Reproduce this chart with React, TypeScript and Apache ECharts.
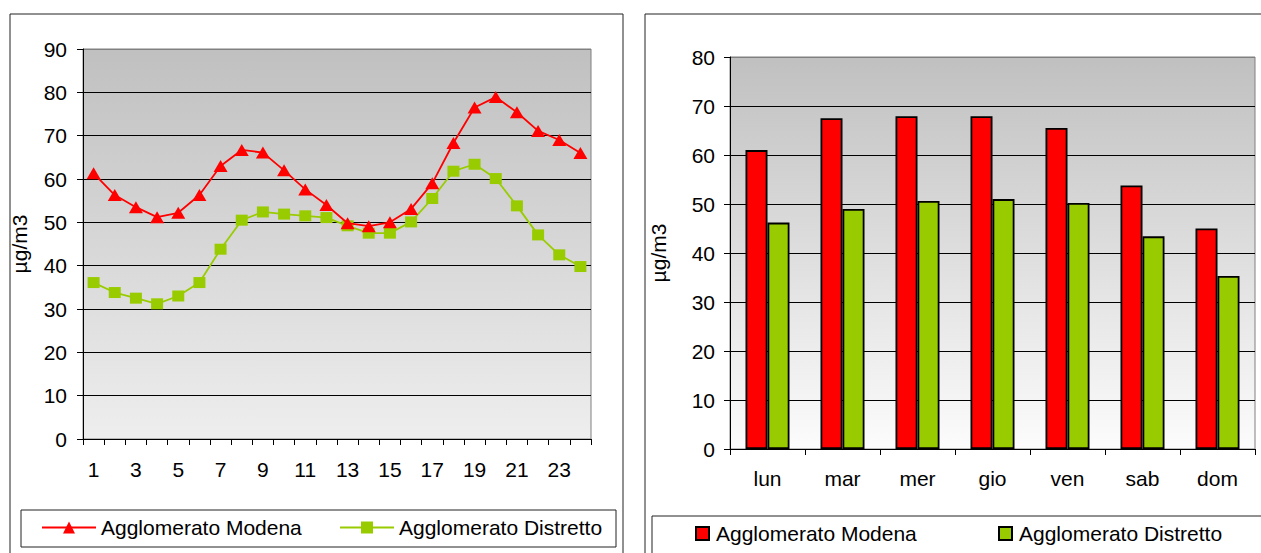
import React, { useEffect, useRef } from "react";
import * as echarts from "echarts";

const hours = ["1","2","3","4","5","6","7","8","9","10","11","12","13","14","15","16","17","18","19","20","21","22","23","24"];
const modenaHourly = [61.3, 56.3, 53.5, 51.2, 52.2, 56.3, 63.0, 66.7, 66.1, 62.0, 57.6, 54.0, 49.8, 49.1, 50.0, 53.1, 59.0, 68.3, 76.5, 78.9, 75.4, 71.1, 69.0, 66.0];
const distrettoHourly = [36.1, 33.8, 32.5, 31.2, 33.0, 36.1, 43.8, 50.5, 52.4, 51.9, 51.5, 51.1, 49.2, 47.5, 47.5, 50.1, 55.5, 61.8, 63.4, 60.1, 53.8, 47.1, 42.5, 39.8];

const days = ["lun", "mar", "mer", "gio", "ven", "sab", "dom"];
const modenaDaily = [61.0, 67.5, 67.9, 67.9, 65.5, 53.8, 45.0];
const distrettoDaily = [46.2, 49.0, 50.6, 51.0, 50.2, 43.4, 35.3];

const seriesNames = ["Agglomerato Modena", "Agglomerato Distretto"];
const unitLabel = "µg/m3";

const FONT = "'Liberation Sans', Arial, sans-serif";
const RED = "#ff0000";
const GREEN = "#99cc00";

function gradient(bottom: string) {
  return {
    type: "linear", x: 0, y: 0, x2: 0, y2: 1,
    colorStops: [
      { offset: 0, color: "#c0c0c0" },
      { offset: 1, color: bottom },
    ],
  };
}

function splitColors(n: number) {
  const arr: string[] = [];
  for (let i = 0; i < n; i++) arr.push(i === n - 1 ? "#808080" : "#000000");
  return arr;
}

const App = () => {
  const leftRef = useRef<HTMLDivElement>(null);
  const rightRef = useRef<HTMLDivElement>(null);

  useEffect(() => {
    const left = echarts.init(leftRef.current!, null, { renderer: "svg" });
    const right = echarts.init(rightRef.current!, null, { renderer: "svg" });

    const textBase = { fontFamily: FONT, fontSize: 21, color: "#000" };

    left.setOption({
      animation: false,
      textStyle: { fontFamily: FONT },
      graphic: [
        { type: "rect", shape: { x: 10, y: 14, width: 613, height: 560 }, style: { fill: "none", stroke: "#222", lineWidth: 1 }, silent: true },
        { type: "rect", shape: { x: 21, y: 510, width: 595, height: 37 }, style: { fill: "#fff", stroke: "#222", lineWidth: 1 }, silent: true, z: -1 },
      ],
      grid: {
        left: 83, top: 49, width: 508, height: 390,
        show: true, backgroundColor: gradient("#eeeeee"), borderColor: "#808080", borderWidth: 1,
      },
      legend: [
        { data: [seriesNames[0]], left: 41, top: 517, padding: 0, itemWidth: 54, itemHeight: 15, textStyle: textBase, selectedMode: false },
        { data: [seriesNames[1]], left: 339, top: 517, padding: 0, itemWidth: 54, itemHeight: 15, textStyle: textBase, selectedMode: false },
      ],
      xAxis: {
        type: "category",
        data: hours,
        boundaryGap: true,
        axisLine: { lineStyle: { color: "#000", width: 1 } },
        axisTick: { show: true, interval: 0, length: 6, lineStyle: { color: "#000" } },
        axisLabel: { ...textBase, interval: 1, margin: 20 },
        splitLine: { show: false },
      },
      yAxis: {
        type: "value",
        min: 0, max: 90, interval: 10,
        name: unitLabel,
        nameLocation: "middle",
        nameRotate: 90,
        nameGap: 53,
        nameTextStyle: textBase,
        axisLine: { show: true, lineStyle: { color: "#000", width: 1 } },
        axisTick: { show: true, length: 6, lineStyle: { color: "#000" } },
        axisLabel: { ...textBase, margin: 16 },
        splitLine: { show: true, lineStyle: { color: splitColors(10), width: 1 } },
      },
      series: [
        {
          name: seriesNames[0], type: "line", data: modenaHourly,
          symbol: "triangle", symbolSize: [14, 12],
          lineStyle: { color: RED, width: 1.8 }, itemStyle: { color: RED },
          z: 3,
        },
        {
          name: seriesNames[1], type: "line", data: distrettoHourly,
          symbol: "rect", symbolSize: [12, 11],
          lineStyle: { color: GREEN, width: 1.8 }, itemStyle: { color: GREEN },
          z: 2,
        },
      ],
    });

    right.setOption({
      animation: false,
      textStyle: { fontFamily: FONT },
      graphic: [
        { type: "rect", shape: { x: 5, y: 14, width: 640, height: 560 }, style: { fill: "none", stroke: "#222", lineWidth: 1 }, silent: true },
        { type: "rect", shape: { x: 12, y: 516, width: 640, height: 60 }, style: { fill: "#fff", stroke: "#222", lineWidth: 1 }, silent: true, z: -1 },
      ],
      grid: {
        left: 86, top: 57, width: 529, height: 392,
        show: true, backgroundColor: gradient("#fcfcfc"), borderColor: "#808080", borderWidth: 1,
      },
      legend: [
        { data: [seriesNames[0]], left: 55, top: 523, padding: 0, icon: "rect", itemWidth: 13, itemHeight: 13, textStyle: { ...textBase, padding: [0, 0, 0, 2] }, selectedMode: false },
        { data: [seriesNames[1]], left: 358, top: 523, padding: 0, icon: "rect", itemWidth: 13, itemHeight: 13, textStyle: { ...textBase, padding: [0, 0, 0, 2] }, selectedMode: false },
      ],
      xAxis: {
        type: "category",
        data: days,
        boundaryGap: true,
        axisLine: { lineStyle: { color: "#000", width: 1 } },
        axisTick: { show: true, interval: 0, length: 6, lineStyle: { color: "#000" } },
        axisLabel: { ...textBase, interval: 0, margin: 19 },
        splitLine: { show: false },
      },
      yAxis: {
        type: "value",
        min: 0, max: 80, interval: 10,
        name: unitLabel,
        nameLocation: "middle",
        nameRotate: 90,
        nameGap: 61,
        nameTextStyle: textBase,
        axisLine: { show: true, lineStyle: { color: "#000", width: 1 } },
        axisTick: { show: true, length: 6, lineStyle: { color: "#000" } },
        axisLabel: { ...textBase, margin: 15 },
        splitLine: { show: true, lineStyle: { color: splitColors(9), width: 1 } },
      },
      series: [
        {
          name: seriesNames[0], type: "bar", data: modenaDaily,
          barWidth: 22, barGap: "0%",
          itemStyle: { color: RED, borderColor: "#000", borderWidth: 1.8 },
        },
        {
          name: seriesNames[1], type: "bar", data: distrettoDaily,
          barWidth: 22, barGap: "0%",
          itemStyle: { color: GREEN, borderColor: "#000", borderWidth: 1.8 },
        },
      ],
    });

    return () => {
      left.dispose();
      right.dispose();
    };
  }, []);

  return (
    <div style={{ position: "absolute", left: 0, top: 0, width: 1261, height: 553, background: "#fff", overflow: "hidden" }}>
      <div ref={leftRef} style={{ position: "absolute", left: 0, top: 0, width: 640, height: 553 }} />
      <div ref={rightRef} style={{ position: "absolute", left: 640, top: 0, width: 621, height: 553 }} />
    </div>
  );
};

export default App;
